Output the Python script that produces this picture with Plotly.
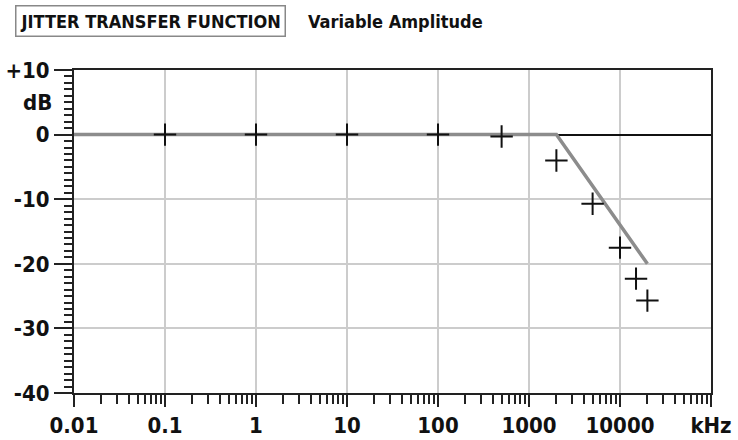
import plotly.graph_objects as go

# Data
freq_khz = [0.1, 1, 10, 100, 500, 2000, 5000, 10000, 15000, 20000]
measured_db = [0, 0, 0, 0, -0.3, -4.0, -10.7, -17.5, -22.3, -25.7]
mask_freq = [0.01, 2000, 20000]
mask_db = [0, 0, -20]
x_tickvals = [0.01, 0.1, 1, 10, 100, 1000, 10000, 100000]
x_ticktext = ["0.01", "0.1", "1", "10", "100", "1000", "10000", "kHz"]
y_tickvals = [10, 0, -10, -20, -30, -40]
y_ticktext = ["+10", "0", "-10", "-20", "-30", "-40"]

FONT = "DejaVu Sans Condensed, DejaVu Sans, sans-serif"
W, H = 738, 440
ML, MR, MT, MB = 74, 27, 70, 47
PH = H - MT - MB
PW = W - ML - MR

def px(xp):
    return (xp - ML) / PW

def py(yp):
    return (H - MB - yp) / PH

def f(size):
    return dict(family=FONT, size=size, color="#111", weight="bold")

fig = go.Figure()
fig.add_trace(go.Scatter(x=mask_freq, y=mask_db, mode="lines",
                         line=dict(color="#8c8c8c", width=3.5), hoverinfo="skip"))
fig.add_trace(go.Scatter(x=freq_khz, y=measured_db, mode="markers",
                         marker=dict(symbol="cross-thin", size=16,
                                     line=dict(color="#111", width=2))))

fig.update_layout(
    width=W, height=H,
    margin=dict(l=ML, r=MR, t=MT, b=MB),
    paper_bgcolor="white", plot_bgcolor="white",
    showlegend=False,
    font=f(22),
    xaxis=dict(type="log", range=[-2, 5], tickmode="array",
               tickvals=x_tickvals, ticktext=x_ticktext, automargin=False,
               ticks="outside", ticklen=12, tickwidth=2, tickcolor="#222",
               showline=True, linecolor="#222", linewidth=2, mirror=True,
               showgrid=True, gridcolor="#cccccc", gridwidth=1.5,
               zeroline=False, tickfont=f(22),
               minor=dict(dtick="D1", ticks="outside", ticklen=9, tickwidth=1.5,
                          tickcolor="#222", showgrid=False)),
    yaxis=dict(range=[-40, 10], tickmode="array",
               tickvals=y_tickvals, ticktext=y_ticktext, automargin=False,
               ticks="outside", ticklen=18, tickwidth=1.5, tickcolor="#222",
               showline=True, linecolor="#222", linewidth=2, mirror=True,
               showgrid=True, gridcolor="#cccccc", gridwidth=1.5,
               zeroline=True, zerolinecolor="#111", zerolinewidth=1.5,
               tickfont=f(22),
               minor=dict(dtick=1, ticks="outside", ticklen=8, tickwidth=1.5,
                          tickcolor="#222", showgrid=False)),
)

fig.add_annotation(text="JITTER TRANSFER FUNCTION", xref="paper", yref="paper",
                   x=px(15), y=py(5), xanchor="left", yanchor="top", showarrow=False,
                   font=f(18), bordercolor="#888", borderwidth=1.5, borderpad=4,
                   bgcolor="white")
fig.add_annotation(text="Variable Amplitude", xref="paper", yref="paper",
                   x=px(306), y=py(21), xanchor="left", yanchor="middle", showarrow=False,
                   font=f(18))
fig.add_annotation(text="dB", xref="paper", yref="y",
                   x=px(54), y=5, xanchor="right", yanchor="middle", showarrow=False,
                   font=f(22))

fig.write_html("out.html", config={"displayModeBar": False},
               post_script="document.body.style.margin='0';document.body.style.padding='0';")
